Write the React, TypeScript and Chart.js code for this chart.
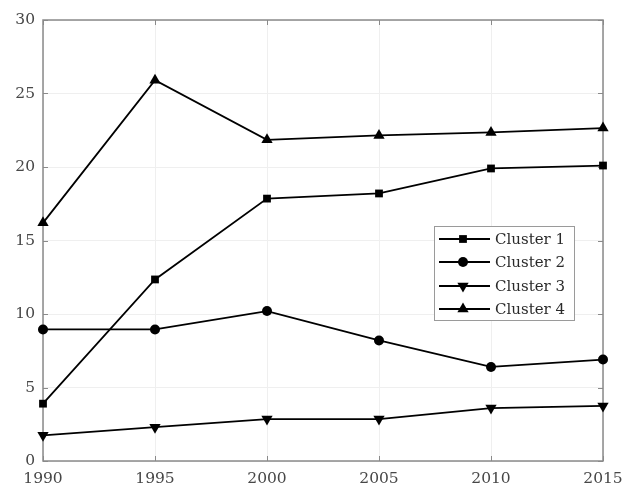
import React, { useEffect, useRef } from "react";
import { Chart, registerables } from "chart.js";

Chart.register(...registerables);

const years = [1990, 1995, 2000, 2005, 2010, 2015];
const cluster1 = [3.9, 12.35, 17.85, 18.2, 19.9, 20.1];
const cluster2 = [8.95, 8.95, 10.2, 8.2, 6.4, 6.9];
const cluster3 = [1.75, 2.3, 2.85, 2.85, 3.6, 3.75];
const cluster4 = [16.2, 25.9, 21.85, 22.15, 22.35, 22.65];
const seriesNames = ["Cluster 1", "Cluster 2", "Cluster 3", "Cluster 4"];
const xTicks = [1990, 1995, 2000, 2005, 2010, 2015];
const yTicks = [0, 5, 10, 15, 20, 25, 30];

const FONT = "'DejaVu Serif', 'Liberation Serif', serif";
const AXIS_COLOR = "#8a8a8a";
const TEXT_COLOR = "#474747";

type Marker = { style: string; radius: number; rotation: number };
const markers: Marker[] = [
  { style: "rect", radius: 5.5, rotation: 0 },
  { style: "circle", radius: 5, rotation: 0 },
  { style: "triangle", radius: 6.5, rotation: 180 },
  { style: "triangle", radius: 6.5, rotation: 0 },
];

function drawMarker(ctx: CanvasRenderingContext2D, m: Marker, x: number, y: number) {
  ctx.save();
  ctx.fillStyle = "#000";
  ctx.beginPath();
  if (m.style === "rect") {
    const s = Math.SQRT1_2 * m.radius;
    ctx.rect(x - s, y - s, 2 * s, 2 * s);
  } else if (m.style === "circle") {
    ctx.arc(x, y, m.radius, 0, Math.PI * 2);
  } else {
    const r = m.radius;
    const dir = m.rotation === 180 ? -1 : 1;
    ctx.moveTo(x, y - dir * r);
    ctx.lineTo(x - r * 0.866, y + dir * r * 0.5);
    ctx.lineTo(x + r * 0.866, y + dir * r * 0.5);
    ctx.closePath();
  }
  ctx.fill();
  ctx.restore();
}

const framePlugin = {
  id: "frameAndLegend",
  beforeDatasetsDraw(chart: any) {
    const { ctx, chartArea } = chart;
    const { left, right, top, bottom } = chartArea;
    const xs = chart.scales.x;
    const ys = chart.scales.y;
    ctx.save();
    ctx.strokeStyle = AXIS_COLOR;
    ctx.lineWidth = 1;
    const tl = 5;
    ctx.beginPath();
    for (const v of xTicks) {
      const px = Math.round(xs.getPixelForValue(v)) + 0.5;
      ctx.moveTo(px, bottom);
      ctx.lineTo(px, bottom - tl);
      ctx.moveTo(px, top);
      ctx.lineTo(px, top + tl);
    }
    for (const v of yTicks) {
      const py = Math.round(ys.getPixelForValue(v)) + 0.5;
      ctx.moveTo(left, py);
      ctx.lineTo(left + tl, py);
      ctx.moveTo(right, py);
      ctx.lineTo(right - tl, py);
    }
    ctx.stroke();
    ctx.lineWidth = 1.5;
    ctx.strokeRect(left, top, right - left, bottom - top);
    ctx.restore();
  },
  afterDraw(chart: any) {
    const { ctx } = chart;
    ctx.save();
    const bx = 434, by = 226, bw = 140, bh = 94;
    ctx.fillStyle = "#fff";
    ctx.fillRect(bx, by, bw, bh);
    ctx.strokeStyle = "#9a9a9a";
    ctx.lineWidth = 1;
    ctx.strokeRect(bx + 0.5, by + 0.5, bw, bh);
    const rowsY = [239, 262, 286, 309];
    ctx.font = `15px ${FONT}`;
    ctx.textBaseline = "middle";
    ctx.textAlign = "left";
    seriesNames.forEach((name, i) => {
      const y = rowsY[i];
      ctx.strokeStyle = "#000";
      ctx.lineWidth = 1.8;
      ctx.beginPath();
      ctx.moveTo(439, y);
      ctx.lineTo(490, y);
      ctx.stroke();
      drawMarker(ctx, markers[i], 463, y);
      ctx.fillStyle = "#2a2a2a";
      ctx.fillText(name, 495, y + 1);
    });
    ctx.restore();
  },
};

export default function App() {
  const ref = useRef<HTMLCanvasElement | null>(null);
  useEffect(() => {
    if (!ref.current) return;
    const all = [cluster1, cluster2, cluster3, cluster4];
    const chart = new Chart(ref.current, {
      type: "line",
      data: {
        datasets: all.map((vals, i) => ({
          label: seriesNames[i],
          data: years.map((yr, j) => ({ x: yr, y: vals[j] })),
          borderColor: "#000",
          backgroundColor: "#000",
          borderWidth: 1.8,
          pointStyle: markers[i].style as any,
          pointRadius: markers[i].radius,
          pointRotation: markers[i].rotation,
          pointBorderWidth: 0,
          tension: 0,
          fill: false,
          clip: false as any,
        })),
      },
      options: {
        responsive: false,
        animation: false,
        layout: { padding: { left: 0, right: 24, top: 20, bottom: 0 } },
        plugins: { legend: { display: false }, tooltip: { enabled: false } },
        scales: {
          x: {
            type: "linear",
            min: 1990,
            max: 2015,
            afterBuildTicks: (s: any) => {
              s.ticks = xTicks.map((v) => ({ value: v }));
            },
            afterFit: (s: any) => {
              s.height = 27;
              s.paddingLeft = 0;
              s.paddingRight = 0;
            },
            grid: { color: "#efefef", drawTicks: false, lineWidth: 1 },
            border: { display: false },
            ticks: {
              padding: 9,
              color: TEXT_COLOR,
              font: { family: FONT, size: 15.5 },
              maxRotation: 0,
              autoSkip: false,
              callback: (v: any) => String(v),
            },
          },
          y: {
            type: "linear",
            min: 0,
            max: 30,
            afterBuildTicks: (s: any) => {
              s.ticks = yTicks.map((v) => ({ value: v }));
            },
            afterFit: (s: any) => {
              s.width = 43;
              s.paddingTop = 0;
              s.paddingBottom = 0;
            },
            grid: { color: "#efefef", drawTicks: false, lineWidth: 1 },
            border: { display: false },
            ticks: {
              padding: 8,
              color: TEXT_COLOR,
              font: { family: FONT, size: 15.5 },
              autoSkip: false,
              callback: (v: any) => String(v),
            },
          },
        },
      },
      plugins: [framePlugin],
    });
    return () => chart.destroy();
  }, []);
  return (
    <div style={{ position: "absolute", left: 0, top: 0, width: 627, height: 488, background: "#fff" }}>
      <canvas ref={ref} width={627} height={488} style={{ width: 627, height: 488, display: "block" }} />
    </div>
  );
}
